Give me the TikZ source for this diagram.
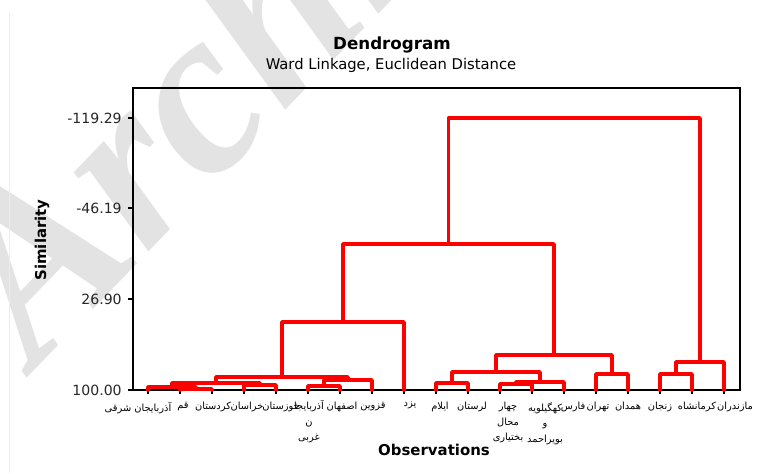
\documentclass[tikz,border=0pt]{standalone}
\usepackage{fontspec}
\setmainfont{DejaVu Sans}
\newfontfamily\farsi[Script=Arabic]{DejaVu Sans}
\newfontfamily\wmfont{Liberation Serif}
\TeXXeTstate=1
\usepackage{tikz}
\usetikzlibrary{positioning}
\newcommand{\fatxt}[1]{\beginR #1\endR}
\tikzstyle{link} = [red, line width=2.1pt, line cap=round, line join=round]
\tikzstyle{frame} = [black, line width=0.8pt]
\tikzstyle{ticklabel} = [anchor=east, inner sep=0pt, text=black!85, font=\fontsize{8}{9}\selectfont]
\tikzstyle{leaflabel} = [anchor=north, align=center, inner sep=0pt, font=\farsi\fontsize{5.6}{8.8}\selectfont]
\tikzstyle{titletext} = [inner sep=0pt, font=\bfseries\fontsize{9.5}{11}\selectfont]
\tikzstyle{subtext} = [inner sep=0pt, font=\fontsize{8.4}{10}\selectfont]
\tikzstyle{axistitle} = [inner sep=0pt, font=\bfseries\fontsize{8.5}{10}\selectfont]
\tikzstyle{watermark} = [rotate=46, anchor=base west, inner sep=0pt, text=gray!22, font=\wmfont\bfseries\itshape\fontsize{135}{135}\selectfont]

\begin{document}
\begin{tikzpicture}[x=0.02cm, y=-0.02cm]
\useasboundingbox (0,0) rectangle (763,473);
% watermark behind the chart
\begin{scope}
\clip (0,0) rectangle (763,473);
\node (mark) [watermark] at (35,370) {Archive};
\end{scope}
\draw [gray!15] (9,13) -- (9,473);

\node (title) [titletext] at (392,45) {Dendrogram};
\node (subtitle) [subtext] at (391,65) {Ward Linkage, Euclidean Distance};
\node (ytitle) [axistitle, rotate=90] at (42,240) {Similarity};
\node (xtitle) [axistitle] at (434,450) {Observations};

% frame and ticks
\draw [frame] (133,88) rectangle (740,390);
\draw [frame] (128,118) -- (133,118) (128,208) -- (133,208) (128,299) -- (133,299) (128,390) -- (133,390);
\node (t1) [ticklabel] at (122,118) {-119.29};
\node (t2) [ticklabel] at (122,208) {-46.19};
\node (t3) [ticklabel] at (122,299) {26.90};
\node (t4) [ticklabel] at (122,390) {100.00};

% leaves
\coordinate (l1) at (148,390);
\coordinate (l2) at (180,390);
\coordinate (l3) at (212,390);
\coordinate (l4) at (244,390);
\coordinate (l5) at (276,390);
\coordinate (l6) at (308,390);
\coordinate (l7) at (340,390);
\coordinate (l8) at (372,390);
\coordinate (l9) at (404,390);
\coordinate (l10) at (436,390);
\coordinate (l11) at (468,390);
\coordinate (l12) at (500,390);
\coordinate (l13) at (532,390);
\coordinate (l14) at (564,390);
\coordinate (l15) at (596,390);
\coordinate (l16) at (628,390);
\coordinate (l17) at (660,390);
\coordinate (l18) at (692,390);
\coordinate (l19) at (724,390);
\draw [frame] (l1) -- ++(0,4) (l2) -- ++(0,4) (l3) -- ++(0,4) (l4) -- ++(0,4)
  (l5) -- ++(0,4) (l6) -- ++(0,4) (l7) -- ++(0,4) (l8) -- ++(0,4)
  (l9) -- ++(0,4) (l10) -- ++(0,4) (l11) -- ++(0,4) (l12) -- ++(0,4)
  (l13) -- ++(0,4) (l14) -- ++(0,4) (l15) -- ++(0,4) (l16) -- ++(0,4)
  (l17) -- ++(0,4) (l18) -- ++(0,4) (l19) -- ++(0,4);

\node (n1) [leaflabel] at (138,402) {\fatxt{آذربایجان شرقی}};
\node (n2) [leaflabel] at (183,402) {\fatxt{قم}};
\node (n3) [leaflabel] at (213,402) {\fatxt{کردستان}};
\node (n4) [leaflabel] at (247,402) {\fatxt{خراسان}};
\node (n5) [leaflabel] at (281,402) {\fatxt{خوزستان}};
\node (n6) [leaflabel] at (309,400) {\fatxt{آذربایجا}\\\fatxt{ن}\\\fatxt{غربی}};
\node (n7) [leaflabel] at (342,402) {\fatxt{اصفهان}};
\node (n8) [leaflabel] at (373,402) {\fatxt{قزوین}};
\node (n9) [leaflabel] at (410,402) {\fatxt{یزد}};
\node (n10) [leaflabel] at (440,402) {\fatxt{ایلام}};
\node (n11) [leaflabel] at (472,402) {\fatxt{لرستان}};
\node (n12) [leaflabel] at (508,402) {\fatxt{چهار}\\\fatxt{محال}\\\fatxt{بختیاری}};
\node (n13) [leaflabel] at (545,402) {\fatxt{کهگیلویه}\\\fatxt{و}\\\fatxt{بویراحمد}};
\node (n14) [leaflabel] at (573,402) {\fatxt{فارس}};
\node (n15) [leaflabel] at (598,402) {\fatxt{تهران}};
\node (n16) [leaflabel] at (628,402) {\fatxt{همدان}};
\node (n17) [leaflabel] at (660,402) {\fatxt{زنجان}};
\node (n18) [leaflabel] at (697,402) {\fatxt{کرمانشاه}};
\node (n19) [leaflabel] at (735,402) {\fatxt{مازندران}};

% merge points
\coordinate (m23) at (196,389);
\coordinate (m123) at (172,387);
\coordinate (m45) at (260,385);
\coordinate (m15) at (216,383);
\coordinate (m67) at (324,386);
\coordinate (m68) at (348,380);
\coordinate (m18) at (282,377);
\coordinate (m19) at (343,322);
\coordinate (m1011) at (452,383);
\coordinate (m1213) at (516,384);
\coordinate (m1214) at (540,382);
\coordinate (m1014) at (496,372);
\coordinate (m1516) at (612,374);
\coordinate (m1016) at (554,355);
\coordinate (m116) at (448.5,244);
\coordinate (m1718) at (676,374);
\coordinate (m1719) at (700,362);
\coordinate (root) at (574,118);

\draw [link] (l2) |- (m23) -| (l3);
\draw [link] (l1) |- (m123) -| (m23);
\draw [link] (l4) |- (m45) -| (l5);
\draw [link] (m123) |- (m15) -| (m45);
\draw [link] (l6) |- (m67) -| (l7);
\draw [link] (m67) |- (m68) -| (l8);
\draw [link] (m15) |- (m18) -| (m68);
\draw [link] (m18) |- (m19) -| (l9);
\draw [link] (l10) |- (m1011) -| (l11);
\draw [link] (l12) |- (m1213) -| (l13);
\draw [link] (m1213) |- (m1214) -| (l14);
\draw [link] (m1011) |- (m1014) -| (m1214);
\draw [link] (l15) |- (m1516) -| (l16);
\draw [link] (m1014) |- (m1016) -| (m1516);
\draw [link] (m19) |- (m116) -| (m1016);
\draw [link] (l17) |- (m1718) -| (l18);
\draw [link] (m1718) |- (m1719) -| (l19);
\draw [link] (m116) |- (root) -| (m1719);
\end{tikzpicture}
\end{document}
